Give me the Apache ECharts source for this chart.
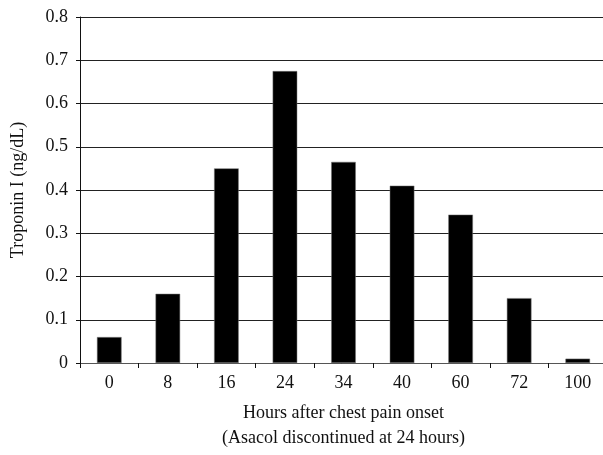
<!DOCTYPE html>
<html><head><meta charset="utf-8">
<script src="https://cdn.jsdelivr.net/npm/echarts@6/dist/echarts.min.js"></script>
<style>html,body{margin:0;padding:0;background:#fff}#c{width:603px;height:455px}</style>
</head><body><div id="c"></div>
<script>
const categories = ['0','8','16','24','34','40','60','72','100'];
const troponin = [0.06, 0.16, 0.45, 0.675, 0.465, 0.41, 0.343, 0.15, 0.01];
const yTicks = [0, 0.1, 0.2, 0.3, 0.4, 0.5, 0.6, 0.7, 0.8];
const font = '"Liberation Serif", "DejaVu Serif", serif';
const chart = echarts.init(document.getElementById('c'), null, {renderer:'canvas'});
chart.setOption({
  animation:false,
  grid:{left:80, right:-4, top:17, bottom:92, containLabel:false, outerBoundsMode:'none'},
  xAxis:{
    type:'category', data:categories,
    name:'Hours after chest pain onset\n(Asacol discontinued at 24 hours)',
    nameLocation:'middle', nameGap:38,
    nameTextStyle:{fontFamily:font, fontSize:18, color:'#111', lineHeight:25},
    axisLine:{lineStyle:{color:'#555', width:1}},
    axisTick:{show:true, inside:false, length:5, lineStyle:{color:'#111'}, alignWithLabel:false},
    axisLabel:{fontFamily:font, fontSize:18, color:'#111', margin:11}
  },
  yAxis:{
    type:'value', min:0, max:0.8, interval:0.1,
    name:'Troponin I (ng/dL)', nameLocation:'middle', nameGap:53, nameRotate:90,
    nameTextStyle:{fontFamily:font, fontSize:18, color:'#111'},
    axisLine:{show:true, lineStyle:{color:'#111', width:1}},
    axisTick:{show:true, inside:false, length:4, lineStyle:{color:'#111'}},
    axisLabel:{fontFamily:font, fontSize:18, color:'#111', margin:12,
      formatter:v=>{ const t = yTicks.find(x=>Math.abs(x-v)<1e-9); return t===0?'0':(t!==undefined?t.toFixed(1):''); }},
    splitLine:{show:true, lineStyle:{color:'#222', width:1}}
  },
  series:[{type:'bar', data:troponin, barWidth:'42%',
    itemStyle:{color:'#000', borderColor:'#777', borderWidth:0.5}}]
});
</script></body></html>
